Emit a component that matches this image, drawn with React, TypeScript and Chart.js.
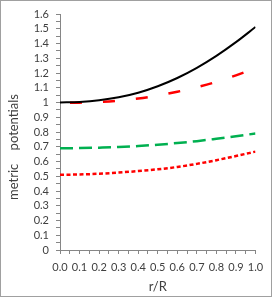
import React, { useEffect, useRef } from 'react';
import { Chart, registerables } from 'chart.js';

Chart.register(...registerables);

const radius = [0, 0.1, 0.2, 0.3, 0.4, 0.5, 0.6, 0.7, 0.8, 0.9, 1.0];
const blackSolid = [1.0, 1.004, 1.015, 1.035, 1.066, 1.11, 1.166, 1.235, 1.316, 1.409, 1.512];
const redLongDash = [0.998, 0.999, 1.004, 1.013, 1.027, 1.047, 1.073, 1.104, 1.14, 1.184, 1.232];
const greenDash = [0.69, 0.691, 0.694, 0.698, 0.705, 0.714, 0.725, 0.738, 0.754, 0.771, 0.79];
const redShortDash = [0.51, 0.512, 0.517, 0.525, 0.535, 0.547, 0.563, 0.584, 0.609, 0.637, 0.667];

const xTitle = 'r/R';
const yTitle = 'metric    potentials';

const AXIS = '#868686';
const TEXT = '#404040';

const toPoints = (ys: number[]) => radius.map((x, i) => ({ x, y: ys[i] }));

const isTenth = (v: number) => Math.round(v * 100) % 10 === 0;

export default function App() {
  const ref = useRef<HTMLCanvasElement | null>(null);

  useEffect(() => {
    if (!ref.current) return;
    const yTitlePlugin = {
      id: 'yTitlePlugin',
      afterDraw(chart: any) {
        const ctx = chart.ctx;
        ctx.save();
        ctx.translate(14, 147);
        ctx.rotate(-Math.PI / 2);
        ctx.font = '13px Lato';
        ctx.fillStyle = TEXT;
        ctx.textAlign = 'center';
        ctx.textBaseline = 'middle';
        ctx.fillText(yTitle, 0, 0);
        ctx.restore();
      },
    };
    const chart = new Chart(ref.current, {
      type: 'line',
      data: {
        datasets: [
          {
            data: toPoints(blackSolid),
            borderColor: '#000000',
            borderWidth: 2,
            pointRadius: 0,
            cubicInterpolationMode: 'monotone',
          },
          {
            data: toPoints(redLongDash),
            borderColor: '#ff0000',
            borderWidth: 2.5,
            borderDash: [12, 21],
            borderDashOffset: 23,
            pointRadius: 0,
            cubicInterpolationMode: 'monotone',
          },
          {
            data: toPoints(greenDash),
            borderColor: '#00b050',
            borderWidth: 2.5,
            borderDash: [13, 6],
            pointRadius: 0,
            cubicInterpolationMode: 'monotone',
          },
          {
            data: toPoints(redShortDash),
            borderColor: '#ff0000',
            borderWidth: 2.5,
            borderDash: [4, 2.5],
            pointRadius: 0,
            cubicInterpolationMode: 'monotone',
          },
        ],
      },
      options: {
        animation: false,
        responsive: false,
        devicePixelRatio: 1,
        layout: { padding: { top: 14, right: 17.5, bottom: 0, left: 0 } },
        plugins: { legend: { display: false }, tooltip: { enabled: false } },
        scales: {
          x: {
            type: 'linear',
            min: 0,
            max: 1,
            afterFit: (s: any) => {
              s.height = 49;
            },
            border: { display: true, color: AXIS, width: 1 },
            grid: { drawOnChartArea: false, drawTicks: true, tickLength: 4, color: AXIS },
            ticks: {
              stepSize: 0.05,
              autoSkip: false,
              maxRotation: 0,
              padding: 7,
              color: TEXT,
              font: { family: 'Lato', size: 11 },
              callback: (v: any) => (isTenth(Number(v)) ? Number(v).toFixed(1) : ''),
            },
            title: {
              display: true,
              text: xTitle,
              color: TEXT,
              font: { family: 'Lato', size: 13 },
              padding: { top: 0, bottom: 4 },
            },
          },
          y: {
            type: 'linear',
            min: 0,
            max: 1.6,
            afterFit: (s: any) => {
              s.width = 60;
            },
            border: { display: true, color: AXIS, width: 1 },
            grid: { drawOnChartArea: false, drawTicks: true, tickLength: 4, color: AXIS },
            ticks: {
              stepSize: 0.05,
              autoSkip: false,
              padding: 7,
              color: TEXT,
              font: { family: 'Lato', size: 11 },
              callback: (v: any) => {
                const n = Number(v);
                if (!isTenth(n)) return '';
                const r = Math.round(n * 10) / 10;
                return r === 0 ? '0' : r === 1 ? '1' : r.toFixed(1);
              },
            },
          },
        },
      },
      plugins: [yTitlePlugin],
    } as any);
    return () => chart.destroy();
  }, []);

  return (
    <div style={{ position: 'relative', width: 273, height: 299, background: '#fff' }}>
      <style>{`body{margin:0}`}</style>
      <canvas ref={ref} width={273} height={299} style={{ position: 'absolute', left: 0, top: 0, width: 273, height: 299 }} />
      <div
        style={{
          position: 'absolute',
          left: 0,
          top: 0,
          width: 272,
          height: 297,
          boxSizing: 'border-box',
          border: '1px solid #a0a0a0',
          pointerEvents: 'none',
        }}
      />
    </div>
  );
}
